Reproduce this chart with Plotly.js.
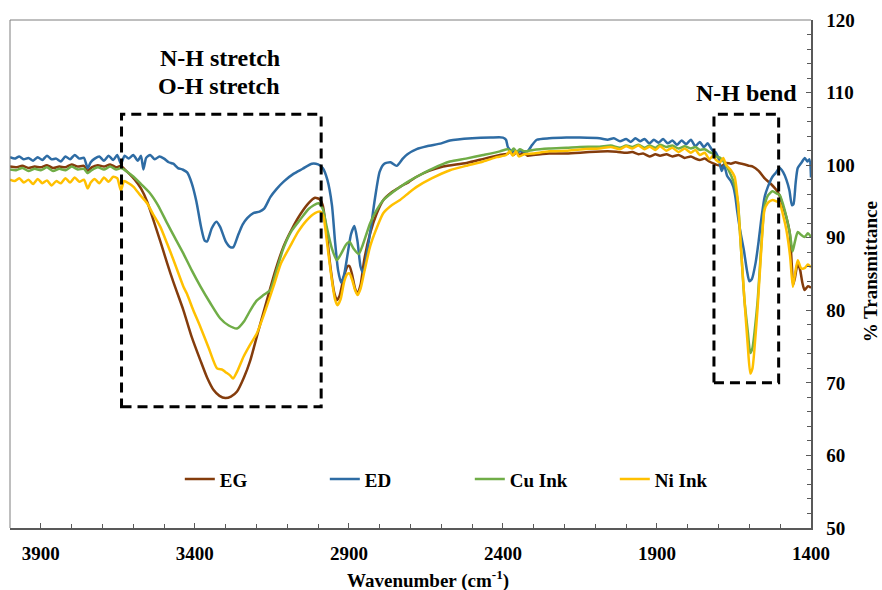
<!DOCTYPE html>
<html>
<head>
<meta charset="utf-8">
<script src="https://cdn.plot.ly/plotly-3.0.1.min.js"></script>
<style>html,body{margin:0;padding:0;background:#fff;}#chart{width:882px;height:590px;}</style>
</head>
<body>
<div id="chart"></div>
<script>
// ---------- DATA ----------
const seriesNames = ["EG", "ED", "Cu Ink", "Ni Ink"];
const xTicks = [3900, 3400, 2900, 2400, 1900, 1400];
const yTicks = [50, 60, 70, 80, 90, 100, 110, 120];

const egWn = [4000,3980,3960,3940,3920,3900,3880,3860,3840,3820,3800,3780,3760,3748,3735,3715,3695,3675,3655,3640,3625,3610,3595,3575,3555,3535,3512,3490,3469,3437,3410,3382,3360,3339,3320,3301,3283,3263,3240,3220,3195,3166,3140,3112,3085,3058,3030,3010,2995,2985,2972,2960,2948,2939,2930,2918,2905,2898,2890,2880,2872,2862,2850,2831,2810,2788,2760,2734,2705,2680,2640,2594,2518,2460,2410,2384,2375,2365,2355,2345,2335,2320,2302,2250,2194,2120,2060,2031,2000,1980,1960,1945,1924,1905,1890,1869,1850,1830,1810,1790,1775,1761,1745,1730,1715,1703,1690,1675,1660,1645,1632,1615,1600,1589,1570,1551,1530,1513,1502,1491,1480,1469,1462,1458,1452,1443,1435,1428,1421,1410,1400];
const egT = [99.8,99.7,99.9,99.6,99.8,99.7,100.0,99.6,99.8,99.7,100.1,99.8,99.9,99.2,99.7,100.0,99.8,100.1,99.7,99.9,99.3,98.7,98.0,96.8,95.0,92.5,89.5,86.5,83.8,80.0,76.3,73.1,70.7,69.0,68.2,67.9,68.1,68.8,70.8,73.1,77.0,81.4,85.3,88.8,91.2,93.2,94.8,95.5,95.3,94.5,90.6,86.0,82.5,81.4,82.0,84.3,86.0,86.1,85.0,83.0,82.3,83.5,87.0,90.6,93.3,95.2,96.3,97.0,97.7,98.4,99.2,99.8,100.3,100.9,101.4,101.6,101.9,101.4,101.9,101.3,101.8,101.3,101.4,101.6,101.6,101.8,101.9,101.85,101.7,101.8,101.5,101.6,101.2,101.5,101.3,101.5,101.2,101.4,101.0,101.2,100.9,100.7,100.9,100.5,100.2,100.0,99.9,100.3,100.2,100.4,100.25,100.1,99.9,99.8,99.2,98.2,97.4,96.6,95.8,94.3,92.8,90.6,86.0,83.5,84.5,86.5,85.5,83.8,82.8,83.3,83.1];

const edWn = [4000,3985,3970,3955,3940,3925,3910,3895,3880,3865,3850,3835,3820,3805,3790,3775,3760,3748,3738,3725,3710,3695,3680,3665,3652,3640,3628,3615,3600,3585,3575,3567,3558,3545,3530,3515,3500,3485,3470,3455,3440,3425,3410,3395,3380,3368,3360,3345,3330,3318,3300,3285,3275,3260,3245,3230,3210,3190,3175,3155,3135,3110,3080,3050,3020,3000,2985,2970,2955,2945,2935,2925,2915,2905,2893,2882,2872,2862,2853,2843,2830,2815,2800,2785,2765,2745,2725,2710,2680,2647,2600,2572,2500,2440,2400,2390,2384,2370,2340,2320,2305,2290,2250,2194,2150,2086,2060,2040,2020,2000,1985,1970,1955,1940,1925,1910,1895,1880,1865,1850,1835,1820,1805,1790,1775,1761,1748,1735,1720,1710,1700,1690,1682,1672,1660,1652,1645,1640,1630,1618,1608,1600,1592,1580,1570,1560,1550,1540,1525,1515,1502,1490,1480,1470,1462,1457,1450,1443,1430,1420,1412,1405,1400];
const edT = [101.1,100.9,101.2,100.8,101.0,100.6,101.1,100.7,101.3,100.8,100.9,100.5,101.2,100.8,101.4,100.9,101.0,99.6,100.4,100.9,101.2,100.6,101.3,100.7,101.4,100.2,101.3,100.9,101.4,100.6,101.3,99.4,101.0,101.4,100.8,101.2,100.9,100.4,100.2,99.6,99.4,99.0,97.5,95.0,91.5,89.6,89.5,91.3,92.2,91.5,89.5,88.7,88.7,90.3,91.8,92.7,93.4,93.6,94.0,95.6,96.7,97.8,98.8,99.5,100.2,100.1,99.6,98.0,94.5,89.5,85.5,83.8,85.0,87.5,90.5,91.6,89.5,86.0,85.1,87.5,91.0,95.5,99.1,100.2,100.4,99.9,100.9,101.5,102.2,102.6,103.0,103.4,103.7,103.8,103.8,103.5,102.5,101.9,101.9,101.9,102.8,103.5,103.7,103.8,103.8,103.7,103.5,103.7,103.3,103.6,103.2,103.7,103.3,103.6,103.0,103.5,103.1,103.6,103.0,103.4,102.8,103.4,102.9,103.5,102.6,103.2,102.5,103.0,102.0,101.8,100.9,99.2,100.0,98.5,97.8,97.0,95.5,93.8,91.0,88.3,85.5,84.0,84.3,86.5,89.5,93.0,95.7,97.0,98.4,98.9,99.6,99.0,98.0,96.5,94.5,94.6,97.5,99.6,100.4,101.0,100.5,100.8,98.3];

const cuWn = [4000,3980,3960,3940,3920,3900,3880,3860,3840,3820,3800,3780,3760,3748,3735,3715,3695,3675,3655,3640,3620,3599,3575,3545,3520,3490,3465,3437,3410,3382,3350,3318,3290,3263,3240,3220,3200,3177,3155,3135,3112,3085,3058,3030,2999,2985,2972,2955,2939,2925,2910,2898,2885,2868,2855,2831,2810,2788,2760,2734,2705,2680,2630,2572,2520,2464,2410,2384,2375,2365,2355,2345,2330,2302,2250,2194,2150,2086,2050,2020,2000,1980,1960,1940,1924,1905,1890,1870,1850,1830,1810,1790,1775,1761,1745,1730,1715,1708,1695,1680,1665,1652,1638,1628,1616,1605,1597,1590,1582,1573,1562,1551,1540,1525,1512,1502,1490,1480,1468,1460,1452,1443,1432,1421,1410,1400];
const cuT = [99.4,99.3,99.6,99.2,99.5,99.3,99.7,99.2,99.5,99.3,99.8,99.4,99.5,98.9,99.3,99.7,99.4,99.8,99.4,99.6,99.1,98.4,97.4,96.1,94.5,92.0,90.0,87.8,85.5,83.3,81.0,78.9,77.9,77.5,78.5,80.0,81.3,82.1,82.8,85.5,88.6,91.0,92.5,94.0,94.75,94.0,91.5,88.5,86.9,87.8,89.0,89.45,88.5,87.75,89.0,92.0,93.8,95.2,96.2,97.0,97.8,98.4,99.5,100.5,100.9,101.4,101.9,102.2,101.8,102.3,101.8,102.2,101.9,102.1,102.3,102.4,102.5,102.55,102.7,102.4,102.7,102.5,102.8,102.4,102.7,102.4,102.8,102.5,102.7,102.3,102.6,102.3,102.5,102.1,102.2,101.8,101.5,101.2,101.0,100.3,99.1,97.8,95.2,89.0,81.4,77.0,74.1,74.8,77.5,81.4,88.5,94.3,95.8,96.4,96.1,95.9,94.5,92.9,90.5,88.1,89.5,90.8,90.4,90.1,90.6,90.1];

const niWn = [4000,3985,3970,3955,3940,3925,3910,3895,3880,3865,3850,3835,3820,3805,3790,3775,3760,3748,3738,3725,3710,3695,3680,3665,3652,3640,3630,3615,3599,3580,3555,3535,3512,3490,3469,3437,3426,3405,3382,3355,3328,3310,3301,3285,3276,3260,3242,3220,3199,3175,3145,3120,3091,3065,3037,3010,2993,2983,2972,2958,2945,2937,2927,2915,2905,2898,2888,2880,2872,2862,2850,2831,2810,2788,2760,2734,2705,2680,2630,2572,2520,2464,2420,2389,2378,2368,2358,2348,2330,2302,2250,2194,2140,2086,2050,2020,2000,1980,1960,1940,1924,1905,1890,1870,1850,1830,1810,1790,1775,1761,1745,1730,1718,1708,1695,1685,1675,1660,1648,1638,1628,1616,1605,1597,1590,1582,1573,1562,1551,1540,1525,1512,1502,1490,1480,1468,1459,1452,1443,1432,1421,1410,1400];
const niT = [98.0,97.8,98.2,97.6,98.0,97.4,98.1,97.5,97.9,97.2,97.8,97.5,98.2,97.6,98.3,97.7,98.0,96.8,97.6,98.1,97.5,98.3,97.7,98.4,98.2,96.5,97.8,97.5,97.0,96.0,94.75,93.2,91.5,89.2,86.9,83.25,82.3,80.0,77.7,74.8,72.0,71.8,71.5,71.0,70.6,71.8,73.6,75.3,76.8,79.5,83.25,86.5,88.8,90.8,92.4,93.4,93.6,93.0,89.7,85.0,81.5,80.7,81.5,84.0,85.0,85.1,84.0,82.8,82.1,83.0,85.3,88.8,91.3,93.4,94.5,95.2,96.2,97.0,98.2,99.3,99.9,100.5,101.1,101.4,101.9,101.3,101.9,101.2,101.5,101.6,101.9,102.0,102.2,102.3,102.5,102.2,102.6,102.3,102.7,102.2,102.55,102.1,102.6,102.0,102.4,101.8,102.3,101.7,102.1,101.4,101.7,100.8,101.3,100.7,100.4,101.0,100.0,99.3,98.4,95.2,89.0,81.4,75.0,71.3,72.0,75.5,80.5,88.0,93.8,94.8,95.2,95.0,94.8,93.0,91.1,87.5,83.25,85.0,86.9,85.8,85.8,86.3,85.9];

// highlighted regions [x0, x1, y0, y1] and their labels
const box1 = [3638, 2990, 66.7, 107];
const box2 = [1715, 1505, 70, 107];
const labels = [
  {text: "N-H stretch", x: 3318, y: 114.8},
  {text: "O-H stretch", x: 3320, y: 110.9},
  {text: "N-H bend", x: 1609, y: 109.9}
];

// ---------- STYLE ----------
const colors = ["#843C0C", "#2E6CA4", "#70AD47", "#FFC000"];
const FONT = '"Liberation Serif", "Times New Roman", serif';
const axisColor = "#595959";

const xs = [egWn, edWn, cuWn, niWn];
const ys = [egT, edT, cuT, niT];
const traces = seriesNames.map((n, i) => ({
  type: "scatter", mode: "lines", name: n,
  x: xs[i], y: ys[i],
  line: {color: colors[i], width: 2.5, shape: "spline", smoothing: 0.6}
}));

function dashedBox(b) {
  return {type: "rect", xref: "x", yref: "y", x0: b[0], x1: b[1], y0: b[2], y1: b[3],
    line: {color: "#000", width: 3, dash: "10px,6px"}, fillcolor: "rgba(0,0,0,0)"};
}

const layout = {
  width: 882, height: 590,
  margin: {l: 9.5, r: 70.5, t: 20, b: 62},
  paper_bgcolor: "#fff", plot_bgcolor: "#fff",
  font: {family: FONT, color: "#000"},
  showlegend: true,
  legend: {orientation: "h", x: 0.212, xanchor: "left", y: 0.096, yanchor: "middle",
    font: {family: FONT, size: 19, color: "#000", weight: "bold"},
    entrywidth: 100, entrywidthmode: "pixels", bgcolor: "rgba(0,0,0,0)", traceorder: "normal"},
  xaxis: {range: [4000, 1400], tickvals: xTicks, ticktext: xTicks.map(String),
    showgrid: false, zeroline: false, showline: true, linecolor: axisColor, linewidth: 1.5,
    ticks: "inside", ticklen: 5, tickwidth: 1, tickcolor: axisColor,
    ticklabelstandoff: 8,
    minor: {dtick: 100, tick0: 1400, ticks: "inside", ticklen: 4, tickcolor: axisColor, tickwidth: 1},
    tickfont: {family: FONT, size: 19, color: "#000", weight: "bold"}},
  yaxis: {range: [50, 120], side: "right", tickvals: yTicks, ticktext: yTicks.map(String),
    showgrid: false, zeroline: false, showline: true, linecolor: axisColor, linewidth: 1.5,
    ticks: "inside", ticklen: 5, tickwidth: 1, tickcolor: axisColor,
    ticklabelstandoff: 10,
    minor: {dtick: 2, tick0: 50, ticks: "inside", ticklen: 4, tickcolor: axisColor, tickwidth: 1},
    tickfont: {family: FONT, size: 19, color: "#000", weight: "bold"}},
  shapes: [
    {type: "line", xref: "paper", yref: "paper", x0: 0, x1: 0, y0: 0, y1: 1, line: {color: "#7f7f7f", width: 1}},
    {type: "line", xref: "paper", yref: "paper", x0: 0, x1: 1, y0: 1, y1: 1, line: {color: "#7f7f7f", width: 1}},
    dashedBox(box1), dashedBox(box2)
  ],
  annotations: labels.map(l => ({text: l.text, x: l.x, y: l.y, xref: "x", yref: "y",
    showarrow: false, xanchor: "center", yanchor: "middle",
    font: {family: FONT, size: 24, color: "#000", weight: "bold"}})).concat([
    {text: "Wavenumber (cm<sup>-1</sup>)", xref: "paper", yref: "paper", x: 0.522, y: -0.102,
      showarrow: false, xanchor: "center", yanchor: "middle",
      font: {family: FONT, size: 19, color: "#000", weight: "bold"}},
    {text: "% Transmittance", xref: "paper", yref: "paper", x: 1.0754, y: 0.504, textangle: -90,
      showarrow: false, xanchor: "center", yanchor: "middle",
      font: {family: FONT, size: 19, color: "#000", weight: "bold"}}
  ])
};

Plotly.newPlot("chart", traces, layout, {displayModeBar: false, staticPlot: true});
</script>
</body>
</html>
